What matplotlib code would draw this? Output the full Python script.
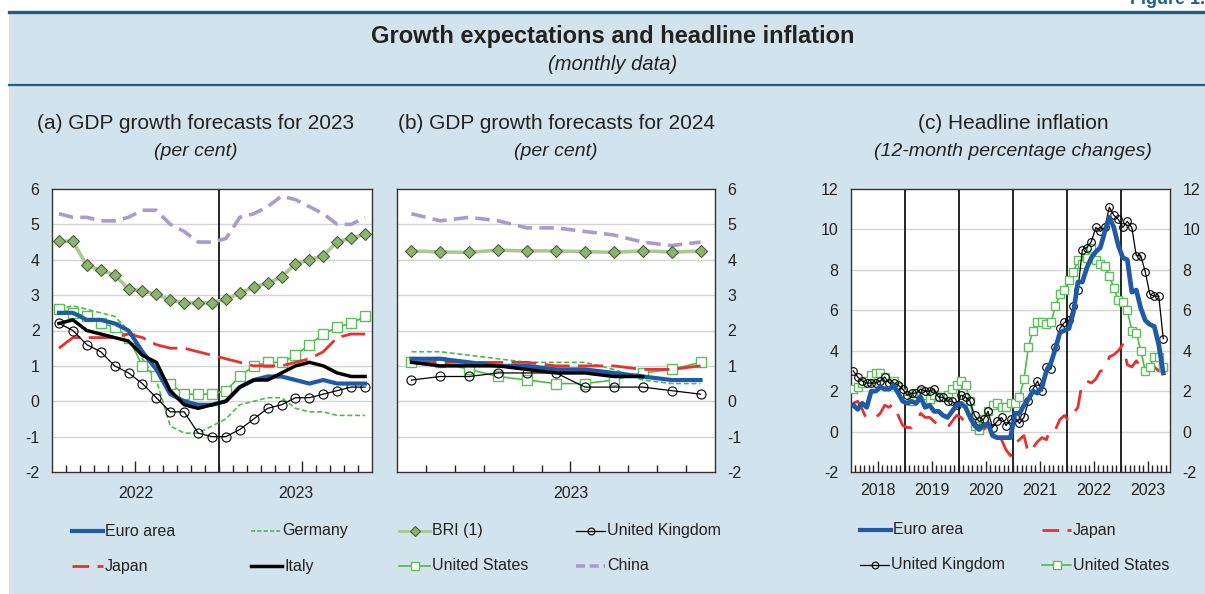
import numpy as np
import matplotlib.pyplot as plt
from matplotlib.lines import Line2D
from matplotlib.patches import Rectangle

plt.rcParams['font.family'] = ['Liberation Sans', 'DejaVu Sans']

# (a) GDP growth forecasts for 2023, Jan 2022 - Nov 2023
ea_23 = [2.5, 2.5, 2.3, 2.3, 2.2, 2.0, 1.4, 0.9, 0.2, 0.0, -0.1, -0.1, 0.0, 0.4, 0.6, 0.7, 0.7, 0.6, 0.5, 0.6, 0.5, 0.5, 0.5]
de_23 = [2.6, 2.7, 2.6, 2.5, 2.4, 2.0, 1.2, 0.6, -0.7, -0.9, -0.9, -0.7, -0.5, -0.1, 0.0, 0.1, 0.1, -0.2, -0.3, -0.3, -0.4, -0.4, -0.4]
bri_23 = [4.53, 4.52, 3.84, 3.71, 3.57, 3.17, 3.12, 3.02, 2.86, 2.79, 2.77, 2.79, 2.89, 3.05, 3.24, 3.33, 3.52, 3.88, 4.00, 4.11, 4.51, 4.61, 4.72]
uk_23 = [2.2, 2.0, 1.6, 1.4, 1.0, 0.8, 0.5, 0.1, -0.3, -0.3, -0.9, -1.0, -1.0, -0.8, -0.5, -0.2, -0.1, 0.1, 0.1, 0.2, 0.3, 0.4, 0.4]
jp_23 = [1.5, 1.8, 1.8, 1.8, 1.8, 1.9, 1.8, 1.6, 1.5, 1.5, 1.4, 1.3, 1.2, 1.1, 1.0, 1.0, 1.0, 1.1, 1.2, 1.4, 1.8, 1.9, 1.9]
it_23 = [2.2, 2.3, 2.0, 1.9, 1.8, 1.7, 1.3, 1.1, 0.3, -0.1, -0.2, -0.1, 0.0, 0.4, 0.6, 0.6, 0.8, 1.0, 1.1, 1.0, 0.8, 0.7, 0.7]
us_23 = [2.6, 2.5, 2.4, 2.2, 2.1, 1.8, 1.0, 0.7, 0.5, 0.2, 0.2, 0.2, 0.3, 0.7, 1.0, 1.1, 1.1, 1.3, 1.6, 1.9, 2.1, 2.2, 2.4]
cn_23 = [5.3, 5.2, 5.2, 5.1, 5.1, 5.2, 5.4, 5.4, 5.0, 4.8, 4.5, 4.5, 4.6, 5.2, 5.3, 5.5, 5.8, 5.7, 5.5, 5.3, 5.0, 5.0, 5.2]

# (b) GDP growth forecasts for 2024, Jan 2023 - Nov 2023
ea_24 = [1.2, 1.2, 1.1, 1.0, 1.0, 0.9, 0.9, 0.8, 0.7, 0.6, 0.6]
de_24 = [1.4, 1.4, 1.3, 1.2, 1.1, 1.1, 1.1, 0.9, 0.6, 0.5, 0.5]
bri_24 = [4.25, 4.22, 4.21, 4.27, 4.25, 4.25, 4.23, 4.21, 4.25, 4.22, 4.24]
uk_24 = [0.6, 0.7, 0.7, 0.8, 0.8, 0.8, 0.4, 0.4, 0.4, 0.3, 0.2]
jp_24 = [1.1, 1.1, 1.1, 1.1, 1.1, 1.0, 1.0, 1.0, 0.9, 0.9, 1.0]
it_24 = [1.1, 1.0, 1.0, 1.0, 0.9, 0.8, 0.8, 0.7, 0.7, np.nan, np.nan]
us_24 = [1.1, 1.1, 0.9, 0.7, 0.6, 0.5, 0.5, 0.6, 0.8, 0.9, 1.1]
cn_24 = [5.3, 5.1, 5.2, 5.1, 4.9, 4.9, 4.8, 4.7, 4.5, 4.4, 4.5]

# (c) headline inflation, Jan 2018 - Oct 2023
ea_inf = [1.3, 1.1, 1.4, 1.2, 2.0, 2.0, 2.2, 2.1, 2.1, 2.3, 1.9, 1.5,
          1.4, 1.5, 1.4, 1.7, 1.2, 1.3, 1.0, 1.0, 0.8, 0.7, 1.0, 1.3,
          1.4, 1.2, 0.7, 0.3, 0.1, 0.3, 0.4, -0.2, -0.3, -0.3, -0.3, -0.3,
          0.9, 0.9, 1.3, 1.6, 2.0, 1.9, 2.2, 3.0, 3.4, 4.1, 4.9, 5.0,
          5.1, 5.9, 7.4, 7.4, 8.1, 8.6, 8.9, 9.1, 9.9, 10.6, 10.1, 9.2,
          8.6, 8.5, 6.9, 7.0, 6.1, 5.5, 5.3, 5.2, 4.3, 2.9]
jp_inf = [1.4, 1.5, 1.1, 0.6, 0.7, 0.7, 0.9, 1.3, 1.2, 1.4, 0.8, 0.3,
          0.2, 0.2, 0.5, 0.9, 0.7, 0.7, 0.5, 0.3, 0.2, 0.2, 0.5, 0.8,
          0.7, 0.4, 0.4, 0.1, 0.1, 0.1, 0.3, 0.2, 0.0, -0.4, -0.9, -1.2,
          -0.6, -0.4, -0.2, -1.1, -0.8, -0.5, -0.3, -0.4, 0.2, 0.1, 0.6, 0.8,
          0.5, 0.9, 1.2, 2.5, 2.5, 2.4, 2.6, 3.0, 3.0, 3.7, 3.8, 4.0,
          4.3, 3.3, 3.2, 3.5, 3.2, 3.3, 3.3, 3.2, 3.0, 3.0]
uk_inf = [3.0, 2.7, 2.5, 2.4, 2.4, 2.4, 2.5, 2.7, 2.4, 2.4, 2.3, 2.1,
          1.8, 1.9, 1.9, 2.1, 2.0, 2.0, 2.1, 1.7, 1.7, 1.5, 1.5, 1.3,
          1.8, 1.7, 1.5, 0.8, 0.5, 0.6, 1.0, 0.2, 0.5, 0.7, 0.3, 0.6,
          0.7, 0.4, 0.7, 1.5, 2.1, 2.5, 2.0, 3.2, 3.1, 4.2, 5.1, 5.4,
          5.5, 6.2, 7.0, 9.0, 9.1, 9.4, 10.1, 9.9, 10.1, 11.1, 10.7, 10.5,
          10.1, 10.4, 10.1, 8.7, 8.7, 7.9, 6.8, 6.7, 6.7, 4.6]
us_inf = [2.1, 2.2, 2.4, 2.5, 2.8, 2.9, 2.9, 2.7, 2.3, 2.5, 2.2, 1.9,
          1.6, 1.5, 1.9, 2.0, 1.8, 1.6, 1.8, 1.7, 1.7, 1.8, 2.1, 2.3,
          2.5, 2.3, 1.5, 0.3, 0.1, 0.6, 1.0, 1.3, 1.4, 1.2, 1.2, 1.4,
          1.4, 1.7, 2.6, 4.2, 5.0, 5.4, 5.4, 5.3, 5.4, 6.2, 6.8, 7.0,
          7.5, 7.9, 8.5, 8.3, 8.6, 9.1, 8.5, 8.3, 8.2, 7.7, 7.1, 6.5,
          6.4, 6.0, 5.0, 4.9, 4.0, 3.0, 3.2, 3.7, 3.7, 3.2]
years_c = ['2018', '2019', '2020', '2021', '2022', '2023']

BG = '#d3e3ed'
NAVY = '#1d5f86'
BLUE = '#1f5aa6'
GREEN = '#4cbb47'
RED = '#e8312f'
OLIVE = '#a8c98f'
LILAC = '#a99bcb'
TXT = '#222222'

# series styles shared by the plots and the legends
STY = {
    'Euro area': dict(color=BLUE, lw=3),
    'Germany': dict(color=GREEN, lw=1.2, ls=(0, (3, 1.6))),
    'BRI (1)': dict(color=OLIVE, lw=2.6, marker='D', ms=6.5, mfc='#8db36f', mec='#4b5f3a', mew=0.8),
    'United Kingdom': dict(color='black', lw=0.9, marker='o', ms=6.5, mfc='none', mec='black', mew=0.8),
    'Japan': dict(color=RED, lw=2, ls=(0, (9, 3))),
    'Italy': dict(color='black', lw=2.5),
    'United States': dict(color=GREEN, lw=1.2, marker='s', ms=7, mfc='white', mec='#5cc05a', mew=1),
    'China': dict(color=LILAC, lw=2.6, ls=(0, (4, 2))),
}

W, H = 1205, 594
fig = plt.figure(figsize=(W / 100, H / 100), dpi=100)
fig.patches.append(Rectangle((9 / W, 0), 1, 1 - 12 / H, transform=fig.transFigure,
                             facecolor=BG, edgecolor='none', zorder=-10))
fig.add_artist(Line2D([9 / W, 1], [1 - 12 / H] * 2, color=NAVY, lw=2.4))
fig.add_artist(Line2D([9 / W, 1], [1 - 85 / H] * 2, color=NAVY, lw=1.6))
fig.text(1.0, 1 - 4 / H, 'Figure 1.', ha='right', va='baseline', fontsize=13,
         fontweight='bold', color=NAVY)

fig.text(613 / W, 1 - 36 / H, 'Growth expectations and headline inflation', ha='center',
         va='center', fontsize=17, fontweight='bold', color=TXT)
fig.text(613 / W, 1 - 64 / H, '(monthly data)', ha='center', va='center', fontsize=14.5,
         style='italic', color=TXT)


def px_axes(l, r, t, b):
    return fig.add_axes([l / W, 1 - b / H, (r - l) / W, (b - t) / H])


def style_axes(ax, ymin, ymax, step, n, tall, vlines, side):
    ax.set_xlim(-0.5, n - 0.5)
    ax.set_ylim(ymin, ymax)
    ax.set_yticks(np.arange(ymin, ymax + 0.1, step))
    ax.set_yticklabels([f'{v:g}' for v in np.arange(ymin, ymax + 0.1, step)])
    for v in np.arange(ymin + step, ymax, step):
        ax.axhline(v, color='#d4d4d4', lw=1, zorder=1)
    for v in vlines:
        ax.axvline(v, color='black', lw=1.2, zorder=1.5)
    ax.set_xticks(tall)
    ax.set_xticks(np.arange(0.5, n - 1), minor=True)
    ax.tick_params(axis='x', which='major', direction='in', length=8, width=1,
                   labelbottom=False, color='#222222')
    ax.tick_params(axis='x', which='minor', direction='in', length=5, width=1,
                   color='#222222')
    ax.tick_params(axis='y', length=0, labelsize=11.5, labelcolor=TXT, pad=9,
                   labelleft=side in ('left', 'both'), labelright=side in ('right', 'both'))
    for s in ax.spines.values():
        s.set_color('#333333')
        s.set_linewidth(1)
    ax.set_facecolor('white')


def plot_gdp(ax, series):
    for name in ['China', 'BRI (1)', 'Germany', 'United States', 'Japan',
                 'United Kingdom', 'Euro area', 'Italy']:
        y = series[name]
        ax.plot(np.arange(len(y)), y, zorder=3, **STY[name])


# panel (a)
ax_a = px_axes(52, 372, 189, 472)
style_axes(ax_a, -2, 6, 1, 23, [5.5, 17.5], [11.5], 'left')
plot_gdp(ax_a, {'Euro area': ea_23, 'Germany': de_23, 'BRI (1)': bri_23,
                'United Kingdom': uk_23, 'Japan': jp_23, 'Italy': it_23,
                'United States': us_23, 'China': cn_23})
for xpos, lab in [(5.5, '2022'), (17, '2023')]:
    ax_a.text(xpos, -0.075, lab, transform=ax_a.get_xaxis_transform(), ha='center',
              va='center', fontsize=11.5, color=TXT)

# panel (b)
ax_b = px_axes(397, 715, 189, 472)
style_axes(ax_b, -2, 6, 1, 11, [5.5], [], 'right')
plot_gdp(ax_b, {'Euro area': ea_24, 'Germany': de_24, 'BRI (1)': bri_24,
                'United Kingdom': uk_24, 'Japan': jp_24, 'Italy': it_24,
                'United States': us_24, 'China': cn_24})
ax_b.text(5.5, -0.075, '2023', transform=ax_b.get_xaxis_transform(), ha='center',
          va='center', fontsize=11.5, color=TXT)

# panel (c)
ax_c = px_axes(851, 1170, 189, 472)
style_axes(ax_c, -2, 12, 2, 71, [5.5 + 12 * k for k in range(6)],
           [11.5 + 12 * k for k in range(5)], 'both')
x_c = np.arange(len(ea_inf))
ax_c.plot(x_c, jp_inf, zorder=3, **dict(STY['Japan'], ls=(0, (8, 5))))
ax_c.plot(x_c, us_inf, zorder=3, **dict(STY['United States'], ms=6))
ax_c.plot(x_c, uk_inf, zorder=3, **dict(STY['United Kingdom'], ms=5.5))
ax_c.plot(x_c, ea_inf, zorder=4, **dict(STY['Euro area'], lw=3.4))
for k, lab in enumerate(years_c):
    ax_c.text(5.5 + 12 * k, -0.065, lab, transform=ax_c.get_xaxis_transform(),
              ha='center', va='center', fontsize=11.5, color=TXT)

# panel headings
heads = [(196, '(a) GDP growth forecasts for 2023', '(per cent)'),
         (556, '(b) GDP growth forecasts for 2024', '(per cent)'),
         (1013, '(c) Headline inflation', '(12-month percentage changes)')]
for xp, t1, t2 in heads:
    fig.text(xp / W, 1 - 124 / H, t1, ha='center', va='center', fontsize=15, color=TXT)
    fig.text(xp / W, 1 - 152 / H, t2, ha='center', va='center', fontsize=14,
             style='italic', color=TXT)


def legend_entry(x0, y, name, length=31, **over):
    st = dict(STY[name])
    st.update(over)
    mk = {k: st.pop(k) for k in ['marker', 'ms', 'mfc', 'mec', 'mew'] if k in st}
    fig.add_artist(Line2D([x0 / W, (x0 + length) / W], [1 - y / H] * 2, **st))
    if mk:
        fig.add_artist(Line2D([(x0 + length / 2) / W], [1 - y / H], ls='none',
                              marker=mk['marker'], ms=mk['ms'] * 0.75, mfc=mk['mfc'],
                              mec=mk['mec'], mew=mk['mew']))
    fig.text((x0 + length + 2) / W, 1 - y / H, name, ha='left', va='center',
             fontsize=11.5, color=TXT)


legend_entry(72, 531, 'Euro area')
legend_entry(251, 531, 'Germany', length=29, ls=(0, (2.5, 1.3)))
legend_entry(399, 531, 'BRI (1)', lw=2)
legend_entry(576, 531, 'United Kingdom', length=29)
legend_entry(72, 566, 'Japan', ls=(0, (6, 3)))
legend_entry(251, 566, 'Italy')
legend_entry(399, 566, 'United States')
legend_entry(576, 566, 'China', length=29, ls=(0, (2.5, 1.3)))

legend_entry(860, 530, 'Euro area')
legend_entry(1042, 530, 'Japan', length=29, ls=(0, (6, 3)))
legend_entry(860, 565, 'United Kingdom', length=29)
legend_entry(1042, 565, 'United States', length=29)

fig.savefig('out.png', dpi=100)
